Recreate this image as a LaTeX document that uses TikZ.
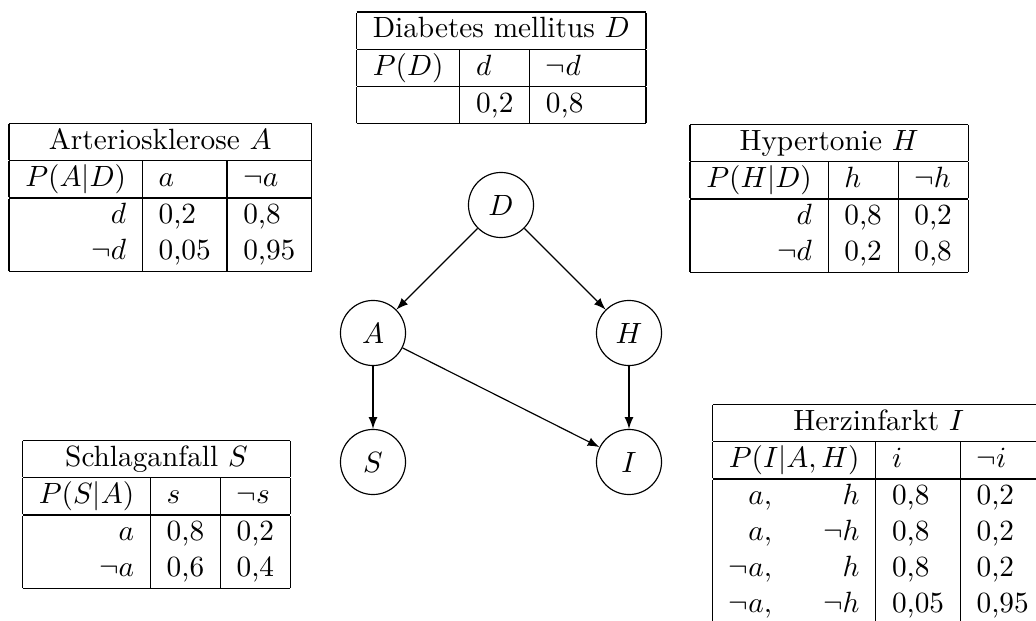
\documentclass[tikz,border=0pt]{standalone}
\usetikzlibrary{arrows}
\setlength{\tabcolsep}{5.55pt}
\renewcommand{\arraystretch}{1.025}

\begin{document}
\begin{tikzpicture}[x=0.3413pt, y=-0.3413pt,
  var/.style={draw, circle, minimum size=22.2pt, inner sep=0pt},
  cpt/.style={inner sep=0pt, outer sep=0pt, anchor=north west},
  dep/.style={-latex}]
  \useasboundingbox (0,0) rectangle (1036,621);
  \clip (0,0) rectangle (1036,621);

  % Bayesian network
  \node[var] (D) at (501,205) {$D$};
  \node[var] (A) at (373,333) {$A$};
  \node[var] (H) at (629,333) {$H$};
  \node[var] (S) at (373,462) {$S$};
  \node[var] (I) at (629,462) {$I$};

  \draw[dep] (D) -- (A);
  \draw[dep] (D) -- (H);
  \draw[dep] (A) -- (S);
  \draw[dep] (A) -- (I);
  \draw[dep] (H) -- (I);

  % conditional probability tables
  \node[cpt] (tD) at (356.5,11.5) {%
    \begin{tabular}{|r|l|l|}
      \hline
      \multicolumn{3}{|c|}{Diabetes mellitus $D$} \\ \hline
      $P(D)$ & $d$ & $\neg d$ \\ \hline
             & 0,2 & 0,8 \\ \hline
    \end{tabular}};

  \node[cpt] (tA) at (9,123) {%
    \begin{tabular}{|r|l|l|}
      \hline
      \multicolumn{3}{|c|}{Arteriosklerose $A$} \\ \hline
      $P(A|D)$ & $a$ & $\neg a$ \\ \hline
      $d$      & 0,2  & 0,8 \\
      $\neg d$ & 0,05 & 0,95 \\ \hline
    \end{tabular}};

  \node[cpt] (tH) at (690,124) {%
    \begin{tabular}{|r|l|l|}
      \hline
      \multicolumn{3}{|c|}{Hypertonie $H$} \\ \hline
      $P(H|D)$ & $h$ & $\neg h$ \\ \hline
      $d$      & 0,8 & 0,2 \\
      $\neg d$ & 0,2 & 0,8 \\ \hline
    \end{tabular}};

  \node[cpt] (tS) at (22.5,440) {%
    \begin{tabular}{|r|l|l|}
      \hline
      \multicolumn{3}{|c|}{Schlaganfall $S$} \\ \hline
      $P(S|A)$ & $s$ & $\neg s$ \\ \hline
      $a$      & 0,8 & 0,2 \\
      $\neg a$ & 0,6 & 0,4 \\ \hline
    \end{tabular}};

  \node[cpt] (tI) at (712.5,404) {%
    \begin{tabular}{|rr|l|l|}
      \hline
      \multicolumn{4}{|c|}{Herzinfarkt $I$} \\ \hline
      \multicolumn{2}{|c|}{$P(I|A,H)$} & $i$ & $\neg i$ \\ \hline
      $a,$      & $h$      & 0,8  & 0,2 \\
      $a,$      & $\neg h$ & 0,8  & 0,2 \\
      $\neg a,$ & $h$      & 0,8  & 0,2 \\
      $\neg a,$ & $\neg h$ & 0,05 & 0,95 \\
    \end{tabular}};
\end{tikzpicture}
\end{document}
